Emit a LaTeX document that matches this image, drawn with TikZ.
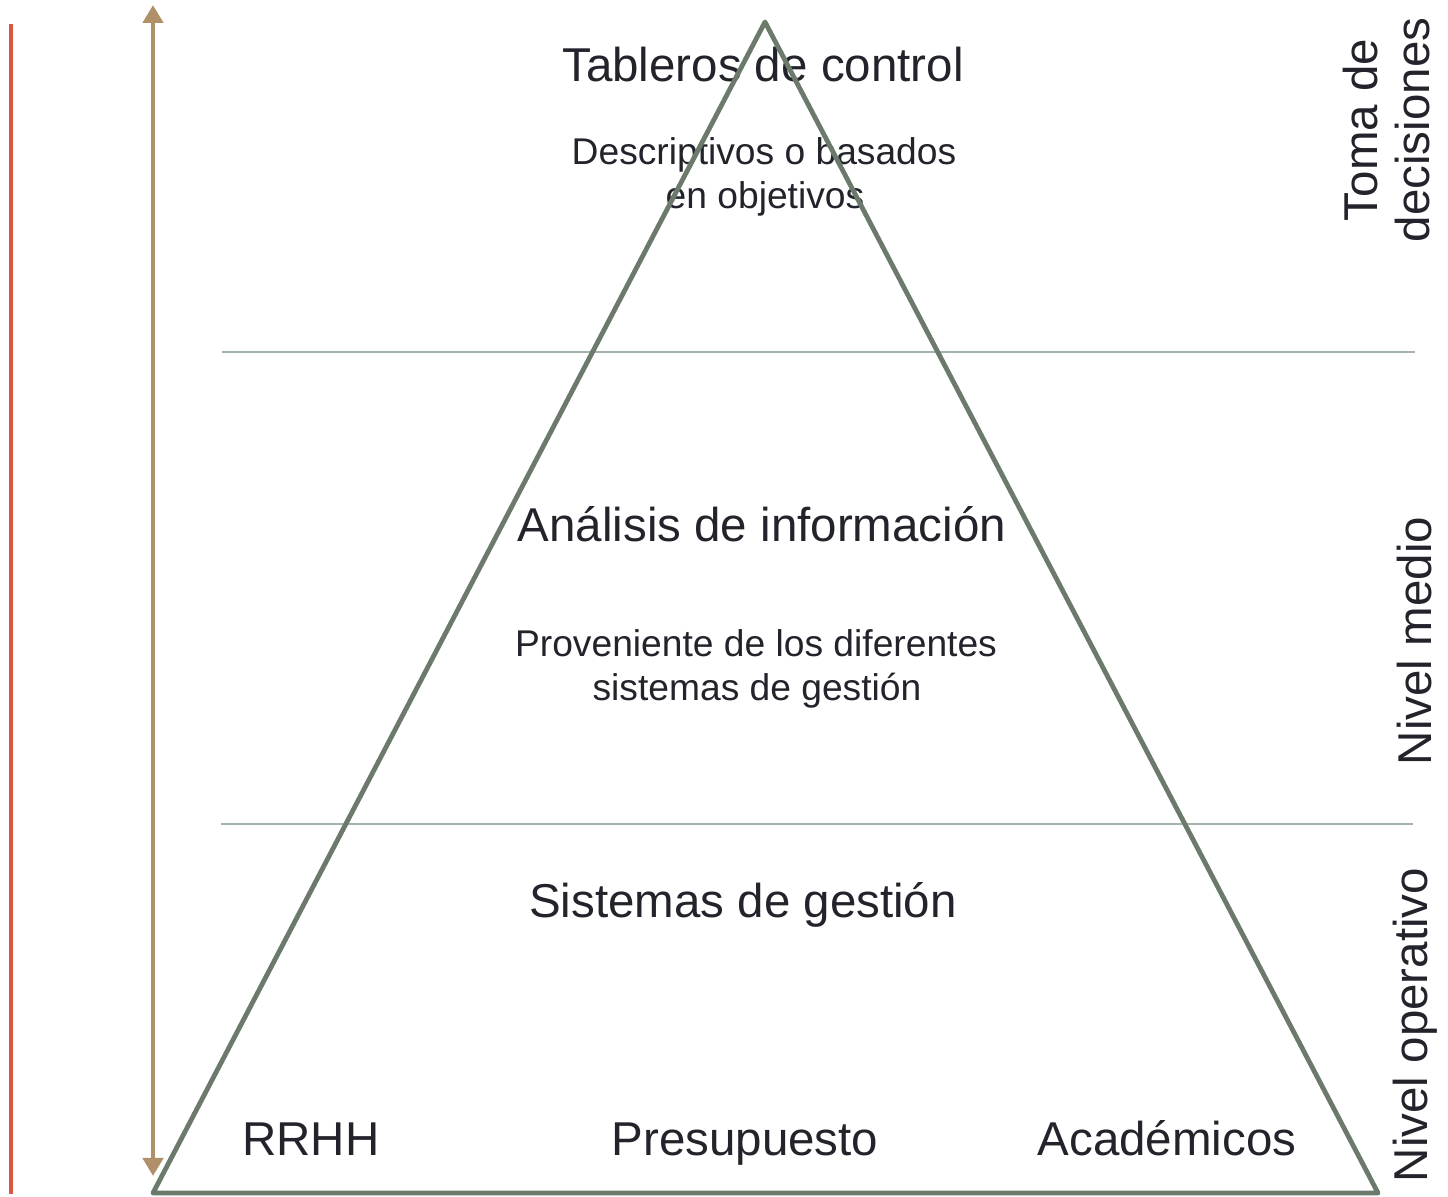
\documentclass[tikz,border=0pt]{standalone}
\usepackage{fontspec}
\setmainfont{Liberation Sans}
\usetikzlibrary{arrows.meta}
\definecolor{txt}{HTML}{22232B}
\definecolor{tri}{HTML}{6C7A6C}
\definecolor{sep}{HTML}{A3B2AA}
\definecolor{redl}{HTML}{D9573F}
\definecolor{tan}{HTML}{B09068}
\tikzset{
  big/.style={text=txt, inner sep=0pt, anchor=base, font=\fontsize{23.75pt}{28pt}\selectfont},
  small/.style={text=txt, inner sep=0pt, anchor=base, font=\fontsize{18.6pt}{22pt}\selectfont},
  side/.style={text=txt, inner sep=0pt, rotate=90, align=center, font=\fontsize{23.75pt}{26pt}\selectfont},
  sepline/.style={draw=sep, line width=0.8pt},
}
\begin{document}
\begin{tikzpicture}[x=0.5pt,y=-0.5pt]
\useasboundingbox (0,0) rectangle (1448,1197);
% coordinates
\coordinate (apex) at (765,22);
\coordinate (bl) at (153,1193);
\coordinate (br) at (1378,1193);
\coordinate (s1a) at (222,352);
\coordinate (s1b) at (1415,352);
\coordinate (s2a) at (221,824);
\coordinate (s2b) at (1413,824);
\coordinate (rt) at (11,24);
\coordinate (rb) at (11,1194);
\coordinate (at) at (153,5);
\coordinate (ab) at (153,1176);
% lines
\draw[sepline] (s1a) -- (s1b);
\draw[sepline] (s2a) -- (s2b);
\draw[redl, line width=1.9pt] (rt) -- (rb);
\draw[tan, line width=2.3pt, {Triangle[width=10pt,length=9pt]}-{Triangle[width=10pt,length=9pt]}] (at) -- (ab);
% texts
\node[big] (t1) at (763,82) {Tableros de control};
\node[small] (t1s) at (764,165) {Descriptivos o basados};
\node[small] (t1t) at (765,209) {en objetivos};
\node[big] (t2) at (762,542) {Análisis de información};
\node[small] (t2s) at (756,657) {Proveniente de los diferentes};
\node[small] (t2t) at (757,701) {sistemas de gestión};
\node[big] (t3) at (743,918) {Sistemas de gestión};
\node[big] (b1) at (311,1156) {RRHH};
\node[big] (b2) at (745,1156) {Presupuesto};
\node[big] (b3) at (1167,1156) {Académicos};
\node[side] (r1) at (1387,130) {Toma de\\decisiones};
\node[side] (r2) at (1415,641) {Nivel medio};
\node[side] (r3) at (1415,1025) {Nivel operativo};
% triangle
\draw[tri, line width=2.4pt, line join=round] (apex) -- (br) -- (bl) -- cycle;
\end{tikzpicture}
\end{document}
